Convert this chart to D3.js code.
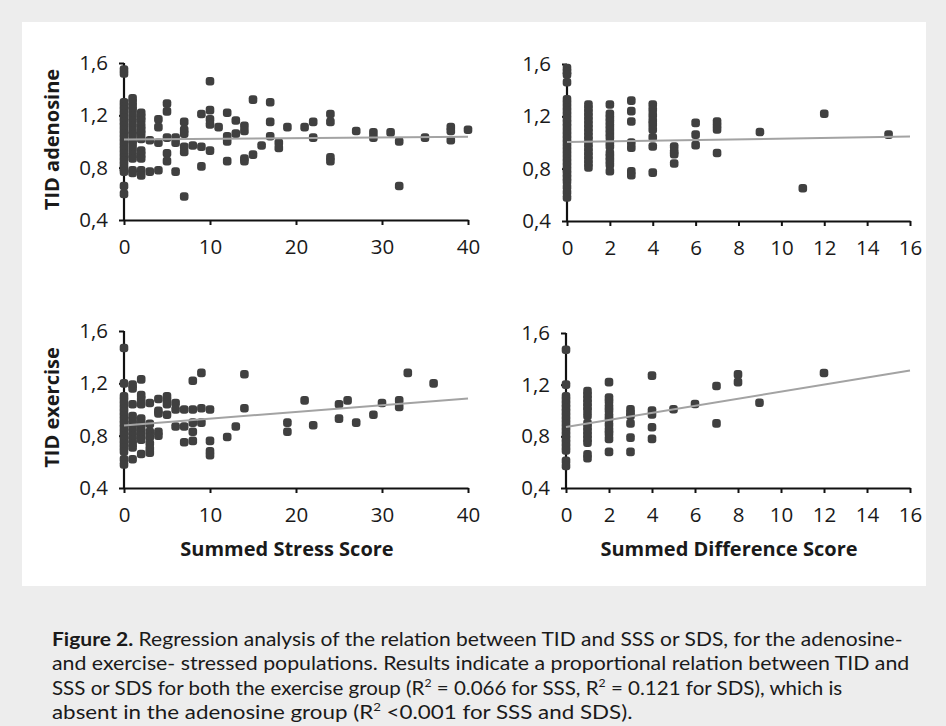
<!DOCTYPE html>
<html><head><meta charset="utf-8">
<script src="https://cdn.jsdelivr.net/npm/d3@7"></script>
<style>body{margin:0;background:#ededed;} svg{display:block}</style>
</head><body><svg id="c" width="946" height="726"></svg>
<script>
// ---- data ----
const yTickValues = [0.4, 0.8, 1.2, 1.6];
const sssTickValues = [0, 10, 20, 30, 40];
const sdsTickValues = [0, 2, 4, 6, 8, 10, 12, 14, 16];
const yTitles = ["TID adenosine", "TID exercise"];
const xTitles = ["Summed Stress Score", "Summed Difference Score"];

const adenosineSSS = [
 [0,1.55],[0,1.52],[0,1.30],[0,1.27],[0,1.24],[0,1.21],[0,1.18],[0,1.15],[0,1.12],[0,1.09],[0,1.06],[0,1.03],[0,1.00],[0,0.97],[0,0.94],[0,0.91],[0,0.88],[0,0.85],[0,0.82],[0,0.79],[0,0.77],[0,0.66],[0,0.60],
 [1,1.33],[1,1.30],[1,1.27],[1,1.24],[1,1.20],[1,1.16],[1,1.12],[1,1.08],[1,1.05],[1,1.01],[1,0.98],[1,0.94],[1,0.90],[1,0.87],[1,0.78],[1,0.76],
 [2,1.22],[2,1.19],[2,1.16],[2,1.12],[2,1.09],[2,1.06],[2,1.02],[2,0.93],[2,0.90],[2,0.87],[2,0.78],[2,0.74],
 [3,1.01],[3,0.77],[4,1.17],[4,1.11],[4,0.99],[4,0.78],
 [5,1.29],[5,1.23],[5,1.03],[5,0.91],[5,0.85],[6,1.03],[6,0.99],[6,0.77],
 [7,1.15],[7,1.09],[7,1.06],[7,0.96],[7,0.92],[7,0.58],[8,0.97],
 [9,1.21],[9,0.96],[9,0.81],[10,1.46],[10,1.24],[10,1.17],[10,1.13],[10,0.93],
 [11,1.11],[12,1.22],[12,1.04],[12,1.00],[12,0.85],[13,1.16],[13,1.06],
 [14,1.12],[14,1.08],[14,0.87],[14,0.85],[15,1.32],[15,0.90],[16,0.97],
 [17,1.30],[17,1.15],[17,1.04],[18,0.99],[18,0.95],[19,1.11],[21,1.11],
 [22,1.15],[22,1.03],[24,1.21],[24,1.15],[24,0.88],[24,0.85],[27,1.08],
 [29,1.07],[29,1.03],[31,1.07],[32,1.00],[32,0.66],[35,1.03],
 [38,1.11],[38,1.08],[38,1.01],[40,1.09]
];
const adenosineSDS = [
 [0,1.57],[0,1.54],[0,1.52],[0,1.46],[0,1.33],[0,1.30],[0,1.27],[0,1.24],[0,1.21],[0,1.18],[0,1.15],[0,1.12],[0,1.09],[0,1.06],[0,1.03],[0,1.00],[0,0.97],[0,0.94],[0,0.91],[0,0.88],[0,0.85],[0,0.82],[0,0.79],[0,0.76],[0,0.73],[0,0.70],[0,0.66],[0,0.62],[0,0.58],
 [1,1.29],[1,1.26],[1,1.23],[1,1.20],[1,1.17],[1,1.14],[1,1.11],[1,1.08],[1,1.05],[1,1.02],[1,0.99],[1,0.96],[1,0.93],[1,0.90],[1,0.87],[1,0.84],[1,0.81],
 [2,1.29],[2,1.22],[2,1.19],[2,1.16],[2,1.13],[2,1.10],[2,1.07],[2,1.04],[2,1.00],[2,0.97],[2,0.92],[2,0.89],[2,0.86],[2,0.83],[2,0.78],
 [3,1.32],[3,1.24],[3,1.16],[3,1.00],[3,0.96],[3,0.78],[3,0.75],
 [4,1.29],[4,1.25],[4,1.21],[4,1.17],[4,1.14],[4,1.10],[4,1.04],[4,0.97],[4,0.77],
 [5,0.97],[5,0.93],[5,0.91],[5,0.84],[6,1.15],[6,1.06],[6,0.98],
 [7,1.16],[7,1.13],[7,1.10],[7,0.92],[9,1.08],[11,0.65],[12,1.22],[15,1.06]
];
const exerciseSSS = [
 [0,1.47],[0,1.20],[0,1.10],[0,1.07],[0,1.04],[0,1.01],[0,0.98],[0,0.95],[0,0.92],[0,0.89],[0,0.86],[0,0.83],[0,0.80],[0,0.77],[0,0.74],[0,0.71],[0,0.68],[0,0.62],[0,0.58],
 [1,1.19],[1,1.16],[1,1.04],[1,0.95],[1,0.92],[1,0.89],[1,0.86],[1,0.83],[1,0.80],[1,0.77],[1,0.74],[1,0.71],[1,0.62],
 [2,1.23],[2,1.11],[2,1.08],[2,1.04],[2,0.93],[2,0.89],[2,0.86],[2,0.83],[2,0.80],[2,0.77],[2,0.66],
 [3,1.05],[3,0.89],[3,0.83],[3,0.79],[3,0.74],[3,0.70],[3,0.67],
 [4,1.08],[4,0.99],[4,0.97],[4,0.83],[4,0.80],
 [5,1.10],[5,1.07],[5,1.04],[5,0.96],[6,1.05],[6,1.00],[6,0.87],
 [7,1.00],[7,0.87],[7,0.75],[8,1.22],[8,1.00],[8,0.90],[8,0.83],[8,0.76],
 [9,1.28],[9,1.01],[9,0.90],[10,1.00],[10,0.76],[10,0.68],[10,0.65],
 [12,0.79],[13,0.87],[14,1.27],[14,1.01],[19,0.90],[19,0.83],[21,1.07],[22,0.88],
 [25,1.04],[25,0.93],[26,1.07],[27,0.90],[29,0.96],[30,1.05],[32,1.07],[32,1.02],
 [33,1.28],[36,1.20]
];
const exerciseSDS = [
 [0,1.47],[0,1.20],[0,1.11],[0,1.08],[0,1.05],[0,1.02],[0,0.99],[0,0.96],[0,0.93],[0,0.90],[0,0.87],[0,0.84],[0,0.81],[0,0.78],[0,0.75],[0,0.72],[0,0.69],[0,0.61],[0,0.57],
 [1,1.15],[1,1.12],[1,1.09],[1,1.06],[1,1.03],[1,1.00],[1,0.96],[1,0.90],[1,0.87],[1,0.84],[1,0.81],[1,0.78],[1,0.75],[1,0.66],[1,0.63],
 [2,1.22],[2,1.10],[2,1.07],[2,1.03],[2,1.00],[2,0.96],[2,0.93],[2,0.89],[2,0.85],[2,0.82],[2,0.78],[2,0.68],
 [3,1.01],[3,0.98],[3,0.96],[3,0.90],[3,0.79],[3,0.68],
 [4,1.27],[4,1.00],[4,0.97],[4,0.87],[4,0.78],[5,1.01],[6,1.05],
 [7,1.19],[7,0.90],[8,1.28],[8,1.22],[9,1.06],[12,1.29]
];
const adenosineSSSFit = [[0,1.015],[40,1.037]];
const adenosineSDSFit = [[0,1.003],[16,1.045]];
const exerciseSSSFit  = [[0,0.878],[40,1.085]];
const exerciseSDSFit  = [[0,0.872],[16,1.31]];

// ---- layout ----
const svg = d3.select("#c");
svg.append("rect").attr("x",0).attr("y",0).attr("width",946).attr("height",726).attr("fill","#ededed");
svg.append("rect").attr("x",22).attr("y",22).attr("width",904).attr("height",564).attr("fill","#ffffff");

const panels = [
 {data: adenosineSSS, fit: adenosineSSSFit, xTicks: sssTickValues, xMax: 40, x0:124, x1:468, yTop:63, yBot:220, yTitle: yTitles[0]},
 {data: adenosineSDS, fit: adenosineSDSFit, xTicks: sdsTickValues, xMax: 16, x0:567, x1:910, yTop:64, yBot:221},
 {data: exerciseSSS, fit: exerciseSSSFit, xTicks: sssTickValues, xMax: 40, x0:124, x1:468, yTop:331, yBot:488, yTitle: yTitles[1], xTitle: xTitles[0]},
 {data: exerciseSDS, fit: exerciseSDSFit, xTicks: sdsTickValues, xMax: 16, x0:566, x1:910, yTop:333, yBot:488, xTitle: xTitles[1]}
];
const tickFont = "'Open Sans', sans-serif";
const fmtY = d => d.toFixed(1).replace(".", ",");

panels.forEach(p => {
  const x = d3.scaleLinear().domain([0, p.xMax]).range([p.x0, p.x1]);
  const y = d3.scaleLinear().domain([0.4, 1.6]).range([p.yBot, p.yTop]);
  const g = svg.append("g");

  const ax = g.append("g").attr("transform", `translate(0,${p.yBot})`)
    .call(d3.axisBottom(x).tickValues(p.xTicks).tickSize(5).tickSizeOuter(0).tickPadding(14).tickFormat(d3.format("d")));
  const ay = g.append("g").attr("transform", `translate(${p.x0},0)`)
    .call(d3.axisLeft(y).tickValues(yTickValues).tickSize(5).tickSizeOuter(0).tickPadding(11).tickFormat(fmtY));
  [ax, ay].forEach(a => {
    a.select(".domain").attr("stroke", "#111").attr("stroke-width", 2.2);
    a.selectAll(".tick line").attr("stroke", "#111").attr("stroke-width", 2);
    a.selectAll(".tick text").attr("font-family", tickFont).attr("font-size", 20.5).attr("fill", "#1a1a1a");
  });
  ay.select(".domain").attr("d", `M0,${p.yBot+1}V${p.yTop}`);

  g.append("g").selectAll("rect").data(p.data).join("rect")
    .attr("x", d => x(d[0]) - 4.3).attr("y", d => y(d[1]) - 4.3)
    .attr("width", 8.6).attr("height", 8.6).attr("rx", 3)
    .attr("fill", "#404040");

  g.append("path").datum(p.fit)
    .attr("d", d3.line().x(d => x(d[0])).y(d => y(d[1])))
    .attr("stroke", "#a3a3a3").attr("stroke-width", 2).attr("fill", "none");

  if (p.yTitle) {
    g.append("text").text(p.yTitle)
      .attr("transform", `translate(59,${(p.yTop + p.yBot) / 2 - 2}) rotate(-90)`)
      .attr("text-anchor", "middle")
      .attr("font-family", tickFont).attr("font-weight", "bold").attr("font-size", 20).attr("fill", "#1a1a1a");
  }
  if (p.xTitle) {
    g.append("text").text(p.xTitle)
      .attr("x", (p.x0 + p.x1) / 2 - 9).attr("y", 556)
      .attr("text-anchor", "middle")
      .attr("font-family", tickFont).attr("font-weight", "bold").attr("font-size", 20).attr("fill", "#1a1a1a");
  }
});

// ---- caption ----
const captionLines = [
  [["Figure 2.", "bold"], [" Regression analysis of the relation between TID and SSS or SDS, for the adenosine-", ""]],
  [["and exercise- stressed populations. Results indicate a proportional relation between TID and", ""]],
  [["SSS or SDS for both the exercise group (R", ""], ["2", "sup"], [" = 0.066 for SSS, R", ""], ["2", "sup"], [" = 0.121 for SDS), which is", ""]],
  [["absent in the adenosine group (R", ""], ["2", "sup"], [" <0.001 for SSS and SDS).", ""]]
];
const captionEnds = [903, 910, 843, 633];
const captionX = 52, captionY0 = 646, captionDy = 24.3;
captionLines.forEach((line, i) => {
  const t = svg.append("text").attr("x", captionX).attr("y", captionY0 + i * captionDy)
    .attr("font-family", "Lato, 'Open Sans', sans-serif").attr("font-size", 18.5).attr("fill", "#1a1a1a");
  let prevSup = false;
  line.forEach(([s, kind]) => {
    const ts = t.append("tspan").text(s);
    if (kind === "bold") ts.attr("font-weight", "bold");
    if (kind === "sup") ts.attr("font-size", 11).attr("dy", -8);
    else if (prevSup) ts.attr("dy", 8);
    prevSup = kind === "sup";
  });
  const w = t.node().getComputedTextLength();
  const sx = (captionEnds[i] - captionX) / w;
  t.attr("transform", `translate(${captionX},0) scale(${sx},1) translate(${-captionX},0)`);
});
</script>
</body></html>
